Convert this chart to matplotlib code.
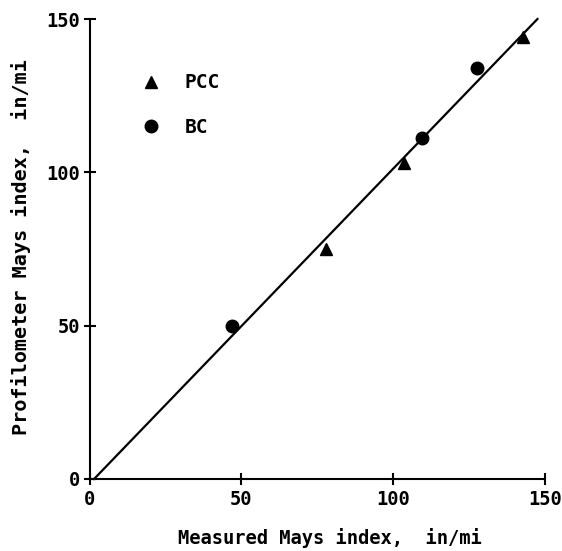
import matplotlib
matplotlib.use("Agg")
import matplotlib.pyplot as plt
import numpy as np

# Measured vs. profilometer Mays index (in/mi)
pcc_measured = [78, 103.7, 142.6]
pcc_profilometer = [75, 103, 144]
bc_measured = [47, 109.5, 127.5]
bc_profilometer = [50, 111.3, 134]

# Fitted line endpoints
fit_x = [1.5, 147.5]
fit_y = [0, 150]

ticks = [0, 50, 100, 150]

FONT = "DejaVu Sans Mono"

fig = plt.figure(figsize=(5.62, 5.51), dpi=100)
ax = fig.add_axes([0.1593, 0.1307, 0.8105, 0.8348])

ax.plot(fit_x, fit_y, color="black", lw=1.6, clip_on=False, zorder=2)
ax.plot(pcc_measured, pcc_profilometer, linestyle="none", marker="^",
        markersize=8.5, color="black", label="PCC", clip_on=False, zorder=3)
ax.plot(bc_measured, bc_profilometer, linestyle="none", marker="o",
        markersize=9, color="black", label="BC", clip_on=False, zorder=3)

ax.set_xlim(0, 150)
ax.set_ylim(0, 150)
ax.set_xticks(ticks)
ax.set_yticks(ticks)
ax.set_xticklabels([str(t) for t in ticks])
ax.set_yticklabels([str(t) for t in ticks])

for side in ("top", "right"):
    ax.spines[side].set_visible(False)
for side in ("left", "bottom"):
    ax.spines[side].set_linewidth(1.5)

ax.tick_params(axis="both", direction="inout", length=8, width=1.5,
               labelsize=13.5, pad=3)
ax.tick_params(axis="x", pad=4)
for lbl in ax.get_xticklabels() + ax.get_yticklabels():
    lbl.set_family(FONT)
    lbl.set_fontweight("bold")

ax.set_xlabel("Measured Mays index,  in/mi", family=FONT, fontweight="bold",
              fontsize=13.5)
ax.set_ylabel("Profilometer Mays index,  in/mi", family=FONT, fontweight="bold",
              fontsize=14.5)
ax.xaxis.set_label_coords(0.527, -0.107)
ax.yaxis.set_label_coords(-0.128, 0.505)

leg = ax.legend(loc="upper left", bbox_to_anchor=(0.076, 0.92), frameon=False,
                handlelength=1.0, handletextpad=1.2, labelspacing=1.3,
                prop={"family": FONT, "weight": "bold", "size": 14})

fig.savefig("out.png", dpi=100, facecolor="white")
